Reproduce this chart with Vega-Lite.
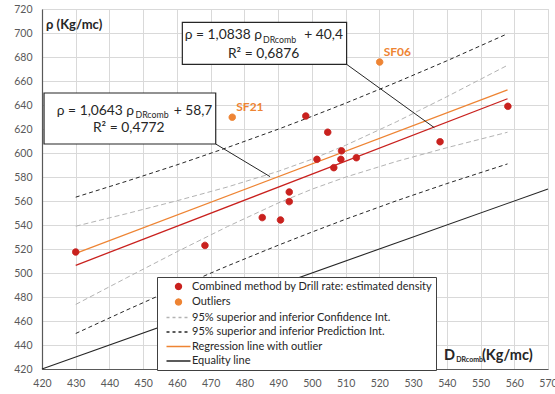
{
  "$schema": "https://vega.github.io/schema/vega-lite/v6.json",
  "width": 506,
  "height": 360,
  "autosize": {"type": "none"},
  "padding": {"left": 42, "top": 9, "right": 7, "bottom": 25},
  "background": "white",
  "config": {
    "font": "Lato",
    "view": {"stroke": "#d9d9d9", "strokeWidth": 1},
    "axis": {
      "gridColor": "#d9d9d9",
      "gridWidth": 1,
      "domainColor": "#595959",
      "domainWidth": 1.2,
      "ticks": false,
      "labelFont": "Lato",
      "labelFontSize": 10.5,
      "labelColor": "#595959",
      "labelOverlap": false,
      "labelFlush": false,
      "title": null
    }
  },
  "datasets": {
    "pts": [
      {"x": 430, "y": 517.5, "series": "Combined method by Drill rate: estimated density", "label": ""},
      {"x": 468.3, "y": 523, "series": "Combined method by Drill rate: estimated density", "label": ""},
      {"x": 485.3, "y": 546.2, "series": "Combined method by Drill rate: estimated density", "label": ""},
      {"x": 490.7, "y": 544.2, "series": "Combined method by Drill rate: estimated density", "label": ""},
      {"x": 493.3, "y": 567.5, "series": "Combined method by Drill rate: estimated density", "label": ""},
      {"x": 493.3, "y": 559.5, "series": "Combined method by Drill rate: estimated density", "label": ""},
      {"x": 498.2, "y": 630.8, "series": "Combined method by Drill rate: estimated density", "label": ""},
      {"x": 501.5, "y": 594.7, "series": "Combined method by Drill rate: estimated density", "label": ""},
      {"x": 504.7, "y": 617.3, "series": "Combined method by Drill rate: estimated density", "label": ""},
      {"x": 506.5, "y": 587.8, "series": "Combined method by Drill rate: estimated density", "label": ""},
      {"x": 508.6, "y": 594.7, "series": "Combined method by Drill rate: estimated density", "label": ""},
      {"x": 508.8, "y": 601.8, "series": "Combined method by Drill rate: estimated density", "label": ""},
      {"x": 513.2, "y": 596.1, "series": "Combined method by Drill rate: estimated density", "label": ""},
      {"x": 538.0, "y": 609.4, "series": "Combined method by Drill rate: estimated density", "label": ""},
      {"x": 558.1, "y": 638.9, "series": "Combined method by Drill rate: estimated density", "label": ""},
      {"x": 476.4, "y": 629.8, "series": "Outliers", "label": "SF21"},
      {"x": 520.1, "y": 675.8, "series": "Outliers", "label": "SF06"}
    ],
    "lines": [
      {"grp": "eq", "side": "a", "x": 420, "y": 420},
      {"grp": "eq", "side": "a", "x": 570, "y": 570},
      {"grp": "red", "side": "a", "x": 430, "y": 506.4},
      {"grp": "red", "side": "a", "x": 558, "y": 645.2},
      {"grp": "orange", "side": "a", "x": 430, "y": 516.4},
      {"grp": "orange", "side": "a", "x": 558, "y": 652.6},
      {"grp": "ci", "side": "up", "x": 430, "y": 539.0},
      {"grp": "ci", "side": "up", "x": 445, "y": 549.4},
      {"grp": "ci", "side": "up", "x": 460, "y": 560.2},
      {"grp": "ci", "side": "up", "x": 475, "y": 571.7},
      {"grp": "ci", "side": "up", "x": 490, "y": 584.7},
      {"grp": "ci", "side": "up", "x": 500, "y": 594.8},
      {"grp": "ci", "side": "up", "x": 510, "y": 606.4},
      {"grp": "ci", "side": "up", "x": 525, "y": 625.9},
      {"grp": "ci", "side": "up", "x": 540, "y": 646.9},
      {"grp": "ci", "side": "up", "x": 558, "y": 673.1},
      {"grp": "ci", "side": "lo", "x": 430, "y": 473.8},
      {"grp": "ci", "side": "lo", "x": 445, "y": 495.9},
      {"grp": "ci", "side": "lo", "x": 460, "y": 517.7},
      {"grp": "ci", "side": "lo", "x": 475, "y": 538.7},
      {"grp": "ci", "side": "lo", "x": 490, "y": 558.3},
      {"grp": "ci", "side": "lo", "x": 500, "y": 569.8},
      {"grp": "ci", "side": "lo", "x": 510, "y": 579.9},
      {"grp": "ci", "side": "lo", "x": 525, "y": 592.9},
      {"grp": "ci", "side": "lo", "x": 540, "y": 604.4},
      {"grp": "ci", "side": "lo", "x": 558, "y": 617.3},
      {"grp": "pi", "side": "up", "x": 430, "y": 563.2},
      {"grp": "pi", "side": "up", "x": 445, "y": 576.4},
      {"grp": "pi", "side": "up", "x": 460, "y": 590.1},
      {"grp": "pi", "side": "up", "x": 475, "y": 604.6},
      {"grp": "pi", "side": "up", "x": 490, "y": 619.8},
      {"grp": "pi", "side": "up", "x": 500, "y": 630.5},
      {"grp": "pi", "side": "up", "x": 510, "y": 641.5},
      {"grp": "pi", "side": "up", "x": 525, "y": 658.8},
      {"grp": "pi", "side": "up", "x": 540, "y": 676.8},
      {"grp": "pi", "side": "up", "x": 558, "y": 699.4},
      {"grp": "pi", "side": "lo", "x": 430, "y": 449.6},
      {"grp": "pi", "side": "lo", "x": 445, "y": 469.0},
      {"grp": "pi", "side": "lo", "x": 460, "y": 487.8},
      {"grp": "pi", "side": "lo", "x": 475, "y": 505.9},
      {"grp": "pi", "side": "lo", "x": 490, "y": 523.1},
      {"grp": "pi", "side": "lo", "x": 500, "y": 534.1},
      {"grp": "pi", "side": "lo", "x": 510, "y": 544.8},
      {"grp": "pi", "side": "lo", "x": 525, "y": 560.1},
      {"grp": "pi", "side": "lo", "x": 540, "y": 574.5},
      {"grp": "pi", "side": "lo", "x": 558, "y": 590.9}
    ],
    "callouts": [
      {"x": 510.3, "y": 673.9, "x2": 536.3, "y2": 621.1},
      {"x": 471.5, "y": 607.5, "x2": 487.6, "y2": 580.3}
    ],
    "boxes": [
      {"x": 461.6, "x2": 510.3, "y": 708.9, "y2": 673.9},
      {"x": 420.6, "x2": 471.5, "y": 650.0, "y2": 607.5}
    ],
    "eqRight": [
      {"x": 485.2, "y": 698.3, "text": "ρ = 1,0838 ρ"},
      {"x": 447.3, "y": 635.2, "text": "ρ = 1,0643 ρ"},
      {"x": 509.2, "y": 698.3, "text": "+ 40,4"},
      {"x": 470.5, "y": 635.2, "text": "+ 58,7"}
    ],
    "eqCenter": [
      {"x": 485.7, "y": 682.5, "text": "R² = 0,6876"},
      {"x": 445.7, "y": 620.8, "text": "R² = 0,4772"}
    ],
    "eqSub": [
      {"x": 485.5, "y": 694.4, "text": "DRcomb"},
      {"x": 447.7, "y": 631.6, "text": "DRcomb"}
    ],
    "yTitle": [
      {"x": 421.2, "y": 706.5, "text": "ρ (Kg/mc)"}
    ],
    "xTitle": [
      {"x": 539.2, "y": 430.8, "text": "D"},
      {"x": 550.4, "y": 430.8, "text": "(Kg/mc)"}
    ],
    "xTitleSub": [
      {"x": 542.8, "y": 427.3, "text": "DRcomb"}
    ]
  },
  "encoding": {
    "x": {"field": "x", "type": "quantitative", "scale": {"domain": [420, 570], "nice": false, "zero": false},
      "axis": {"values": [420,430,440,450,460,470,480,490,500,510,520,530,540,550,560,570], "labelPadding": 9, "grid": true}},
    "y": {"field": "y", "type": "quantitative", "scale": {"domain": [420, 720], "nice": false, "zero": false},
      "axis": {"values": [420,440,460,480,500,520,540,560,580,600,620,640,660,680,700,720], "labelPadding": 10, "grid": true}}
  },
  "layer": [
    {
      "data": {"name": "lines"},
      "transform": [{"filter": "datum.grp === 'ci'"}],
      "mark": {"type": "line", "color": "#b3b3b3", "strokeWidth": 1, "strokeDash": [5, 3]},
      "encoding": {"detail": {"field": "side"}}
    },
    {
      "data": {"name": "lines"},
      "transform": [{"filter": "datum.grp === 'pi'"}],
      "mark": {"type": "line", "color": "#262626", "strokeWidth": 1, "strokeDash": [4, 3]},
      "encoding": {"detail": {"field": "side"}}
    },
    {
      "data": {"name": "lines"},
      "transform": [{"filter": "datum.grp === 'eq'"}],
      "mark": {"type": "line", "color": "#262626", "strokeWidth": 1.1},
      "encoding": {}
    },
    {
      "data": {"name": "lines"},
      "transform": [{"filter": "datum.grp === 'orange'"}],
      "mark": {"type": "line", "color": "#EE8433", "strokeWidth": 1.3},
      "encoding": {}
    },
    {
      "data": {"name": "lines"},
      "transform": [{"filter": "datum.grp === 'red'"}],
      "mark": {"type": "line", "color": "#C9211E", "strokeWidth": 1.3},
      "encoding": {}
    },
    {
      "data": {"name": "callouts"},
      "mark": {"type": "rule", "color": "#262626", "strokeWidth": 1},
      "encoding": {"x2": {"field": "x2"}, "y2": {"field": "y2"}}
    },
    {
      "data": {"name": "boxes"},
      "mark": {"type": "rect", "fill": "white", "stroke": "#262626", "strokeWidth": 1.2},
      "encoding": {"x2": {"field": "x2"}, "y2": {"field": "y2"}}
    },
    {
      "data": {"name": "eqRight"},
      "mark": {"type": "text", "align": "right", "baseline": "middle", "fontSize": 13.8, "color": "#262626", "font": "Lato"},
      "encoding": {"text": {"field": "text"}}
    },
    {
      "data": {"name": "eqCenter"},
      "mark": {"type": "text", "align": "center", "baseline": "middle", "fontSize": 13.8, "color": "#262626", "font": "Lato"},
      "encoding": {"text": {"field": "text"}}
    },
    {
      "data": {"name": "eqSub"},
      "mark": {"type": "text", "align": "left", "baseline": "middle", "fontSize": 8.8, "color": "#262626", "font": "Lato"},
      "encoding": {"text": {"field": "text"}}
    },
    {
      "data": {"name": "yTitle"},
      "mark": {"type": "text", "align": "left", "baseline": "middle", "fontSize": 13, "fontWeight": "bold", "color": "#262626", "font": "Lato"},
      "encoding": {"text": {"field": "text"}}
    },
    {
      "data": {"name": "xTitle"},
      "mark": {"type": "text", "align": "left", "baseline": "middle", "fontSize": 14.5, "fontWeight": "bold", "color": "#262626", "font": "Lato"},
      "encoding": {"text": {"field": "text"}}
    },
    {
      "data": {"name": "xTitleSub"},
      "mark": {"type": "text", "align": "left", "baseline": "middle", "fontSize": 7, "fontWeight": "bold", "color": "#262626", "font": "Lato"},
      "encoding": {"text": {"field": "text"}}
    },
    {
      "data": {"name": "pts"},
      "mark": {"type": "point", "filled": true, "opacity": 1, "size": 42, "strokeWidth": 1},
      "encoding": {
        "fill": {"field": "series", "type": "nominal",
          "scale": {"domain": ["Combined method by Drill rate: estimated density", "Outliers", "95% superior and inferior Confidence Int.", "95% superior and inferior Prediction Int.", "Regression line with outlier", "Equality line"],
            "range": ["#C9211E", "#EE8433", "#b3b3b3", "#262626", "#EE8433", "#262626"]},
          "legend": {"title": null, "orient": "none", "legendX": 115, "legendY": 268, "fillColor": "white", "strokeColor": "#404040", "padding": 4, "symbolSize": 36, "symbolStrokeWidth": 1.3, "symbolOffset": 12, "labelOffset": 8, "labelFontSize": 11, "labelFont": "Lato", "labelColor": "#262626", "rowPadding": 2.5, "labelLimit": 400}},
        "stroke": {"field": "series", "type": "nominal",
          "scale": {"domain": ["Combined method by Drill rate: estimated density", "Outliers", "95% superior and inferior Confidence Int.", "95% superior and inferior Prediction Int.", "Regression line with outlier", "Equality line"],
            "range": ["#C9211E", "#EE8433", "#b3b3b3", "#262626", "#EE8433", "#262626"]},
          "legend": {"title": null, "orient": "none", "legendX": 115, "legendY": 268, "fillColor": "white", "strokeColor": "#404040", "padding": 4, "symbolSize": 36, "symbolStrokeWidth": 1.3, "symbolOffset": 12, "labelOffset": 8, "labelFontSize": 11, "labelFont": "Lato", "labelColor": "#262626", "rowPadding": 2.5, "labelLimit": 400}},
        "shape": {"field": "series", "type": "nominal",
          "scale": {"domain": ["Combined method by Drill rate: estimated density", "Outliers", "95% superior and inferior Confidence Int.", "95% superior and inferior Prediction Int.", "Regression line with outlier", "Equality line"],
            "range": ["circle", "circle", "M-4,0H4", "M-4,0H4", "M-4,0H4", "M-4,0H4"]},
          "legend": {"title": null, "orient": "none", "legendX": 115, "legendY": 268, "fillColor": "white", "strokeColor": "#404040", "padding": 4, "symbolSize": 36, "symbolStrokeWidth": 1.3, "symbolOffset": 12, "labelOffset": 8, "labelFontSize": 11, "labelFont": "Lato", "labelColor": "#262626", "rowPadding": 2.5, "labelLimit": 400}},
        "strokeDash": {"field": "series", "type": "nominal",
          "scale": {"domain": ["Combined method by Drill rate: estimated density", "Outliers", "95% superior and inferior Confidence Int.", "95% superior and inferior Prediction Int.", "Regression line with outlier", "Equality line"],
            "range": [[1, 0], [1, 0], [3, 3], [3, 3], [1, 0], [1, 0]]},
          "legend": {"title": null, "orient": "none", "legendX": 115, "legendY": 268, "fillColor": "white", "strokeColor": "#404040", "padding": 4, "symbolSize": 36, "symbolStrokeWidth": 1.3, "symbolOffset": 12, "labelOffset": 8, "labelFontSize": 11, "labelFont": "Lato", "labelColor": "#262626", "rowPadding": 2.5, "labelLimit": 400}}
      }
    },
    {
      "data": {"name": "pts"},
      "transform": [{"filter": "datum.label !== ''"}],
      "mark": {"type": "text", "align": "left", "baseline": "middle", "dx": 4, "dy": -10, "fontSize": 12, "fontWeight": "bold", "color": "#EE8433", "font": "Lato"},
      "encoding": {"text": {"field": "label"}}
    }
  ]
}
